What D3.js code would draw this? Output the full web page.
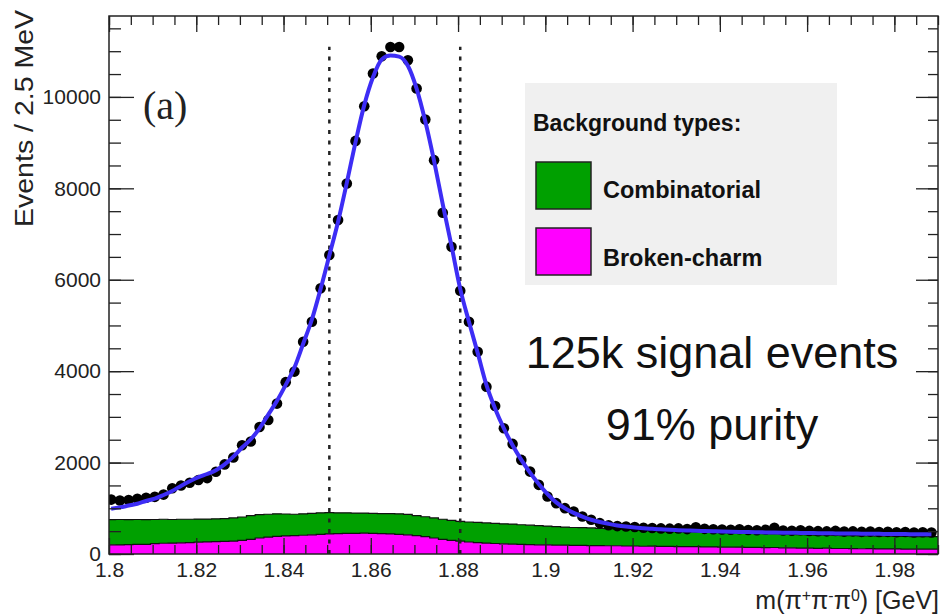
<!DOCTYPE html>
<html>
<head>
<meta charset="utf-8">
<script src="https://cdn.jsdelivr.net/npm/d3@7.9.0/dist/d3.min.js"></script>
<style>
  html, body { margin: 0; padding: 0; background: #fff; }
  svg { display: block; font-family: "Liberation Sans", Arial, Helvetica, sans-serif; }
</style>
</head>
<body>
<svg id="chart" width="942" height="615"></svg>
<script>
// histogram binning: 95 bins of 2 MeV
const binLo = 1.7995;
const binWidth = 0.002;

// data points (events per bin)
const events = [
  1190, 1170, 1180, 1210, 1230, 1250, 1300, 1440, 1500, 1560,
  1620, 1660, 1800, 1960, 2110, 2380, 2460, 2780, 2930, 3290,
  3760, 3990, 4645, 5082, 5812, 6540, 7305, 8107, 9038, 9797,
  10511, 10890, 11093, 11093, 10802, 10183, 9506, 8616, 7464, 6721,
  5760, 5082, 4426, 3661, 3239, 2752, 2409, 2059, 1803, 1513,
  1257, 1112, 1003, 929, 820, 748, 675, 630, 610, 600,
  590, 575, 570, 560, 555, 560, 545, 585, 550, 540,
  535, 530, 540, 525, 520, 530, 575, 515, 510, 520,
  505, 500, 495, 505, 490, 495, 485, 490, 480, 485,
  475, 480, 470, 475, 470
];

// total fit, sampled at the bin centres
const fitValues = [
  990, 1020, 1060, 1100, 1160, 1210, 1290, 1380, 1490, 1590,
  1680, 1750, 1830, 1960, 2130, 2330, 2510, 2750, 3050, 3350,
  3700, 4080, 4600, 5130, 5800, 6530, 7270, 8120, 9010, 9820,
  10430, 10820, 10905, 10880, 10680, 10180, 9460, 8600, 7650, 6740,
  5800, 5080, 4400, 3700, 3180, 2750, 2380, 2060, 1780, 1530,
  1310, 1130, 1000, 900, 820, 750, 700, 660, 625, 600,
  580, 565, 550, 540, 530, 522, 515, 508, 502, 497,
  492, 488, 484, 480, 476, 473, 470, 467, 464, 461,
  458, 456, 453, 451, 449, 447, 445, 443, 441, 439,
  437, 435, 433, 431, 430
];

// broken-charm background (bottom of the stack)
const brokenCharm = [
  200, 198, 205, 210, 212, 225, 235, 238, 245, 250,
  258, 265, 270, 275, 282, 300, 320, 350, 370, 385,
  395, 400, 410, 420, 430, 440, 445, 450, 452, 455,
  450, 445, 440, 430, 420, 400, 380, 350, 320, 300,
  280, 262, 250, 240, 230, 222, 215, 210, 205, 200,
  200, 195, 195, 190, 190, 185, 185, 180, 180, 175,
  175, 170, 172, 165, 165, 160, 160, 162, 155, 155,
  150, 150, 152, 145, 145, 140, 142, 135, 135, 130,
  130, 125, 127, 120, 120, 118, 115, 116, 112, 110,
  110, 108, 105, 106, 105
];

// combinatorial + broken-charm (top of the stack)
const totalBackground = [
  750, 755, 750, 755, 750, 755, 760, 755, 760, 760,
  765, 765, 770, 775, 790, 810, 840, 860, 870, 880,
  875, 870, 880, 890, 900, 905, 900, 900, 895, 895,
  890, 885, 885, 880, 865, 840, 815, 790, 760, 735,
  712, 700, 690, 680, 670, 660, 655, 640, 630, 620,
  610, 600, 590, 580, 575, 570, 560, 555, 550, 545,
  540, 530, 520, 510, 500, 495, 490, 485, 480, 475,
  470, 465, 460, 455, 450, 445, 440, 435, 430, 425,
  420, 415, 410, 405, 400, 400, 395, 395, 390, 390,
  385, 385, 380, 380, 380
];

const xTicks = [1.8, 1.82, 1.84, 1.86, 1.88, 1.9, 1.92, 1.94, 1.96, 1.98];
const yTicks = [0, 2000, 4000, 6000, 8000, 10000];
const signalWindow = [1.8505, 1.8805];
const windowTop = 11100;
const bgLabels = ['Combinatorial', 'Broken-charm'];
const bgColors = ['#00a000', '#ff00ff'];

const svg = d3.select('#chart');
const x = d3.scaleLinear().domain([1.8, 1.99]).range([109, 938]);
const y = d3.scaleLinear().domain([0, 11770]).range([554, 16]);

svg.append('rect').attr('width', 942).attr('height', 615).attr('fill', '#fff');

svg.append('clipPath').attr('id', 'plot')
  .append('rect')
  .attr('x', x.range()[0]).attr('y', y.range()[1])
  .attr('width', x.range()[1] - x.range()[0])
  .attr('height', y.range()[0] - y.range()[1]);

const plot = svg.append('g').attr('clip-path', 'url(#plot)');

// bin edges for the stacked background histograms
let bins = events.map((v, i) => ({
  x0: binLo + i * binWidth,
  xc: binLo + (i + 0.5) * binWidth,
  x1: binLo + (i + 1) * binWidth,
  n: v,
  fit: fitValues[i],
  bc: brokenCharm[i],
  tot: totalBackground[i]
}));
let steps = bins.map(b => ({ x: b.x0, bc: b.bc, tot: b.tot }));
let last = bins[bins.length - 1];
steps.push({ x: x.domain()[1], bc: last.bc, tot: last.tot });

let area = d3.area().curve(d3.curveStepAfter).x(d => x(d.x));
plot.append('path')
  .datum(steps)
  .attr('fill', bgColors[0])
  .attr('d', area.y0(d => y(d.bc)).y1(d => y(d.tot)));
plot.append('path')
  .datum(steps)
  .attr('fill', bgColors[1])
  .attr('d', area.y0(y(0)).y1(d => y(d.bc)));

let stepLine = d3.line().curve(d3.curveStepAfter).x(d => x(d.x));
['tot', 'bc'].forEach(k => {
  plot.append('path')
    .datum(steps)
    .attr('fill', 'none')
    .attr('stroke', '#111')
    .attr('stroke-width', 1.2)
    .attr('d', stepLine.y(d => y(d[k])));
});

// signal window
plot.selectAll('line.window')
  .data(signalWindow)
  .join('line')
  .attr('class', 'window')
  .attr('x1', d => x(d)).attr('x2', d => x(d))
  .attr('y1', y(0)).attr('y2', y(windowTop))
  .attr('stroke', '#222')
  .attr('stroke-width', 2.5)
  .attr('stroke-dasharray', '4,6.5');

// data points
plot.selectAll('line.err')
  .data(bins)
  .join('line')
  .attr('class', 'err')
  .attr('x1', d => x(d.x0)).attr('x2', d => x(d.x1))
  .attr('y1', d => y(d.n)).attr('y2', d => y(d.n))
  .attr('stroke', '#000').attr('stroke-width', 2.5);
plot.selectAll('circle')
  .data(bins)
  .join('circle')
  .attr('cx', d => x(d.xc))
  .attr('cy', d => y(d.n))
  .attr('r', 5.3)
  .attr('fill', '#000');

// fit
plot.append('path')
  .datum(bins)
  .attr('fill', 'none')
  .attr('stroke', '#3d2df5')
  .attr('stroke-width', 4)
  .attr('d', d3.line().curve(d3.curveMonotoneX).x(d => x(d.xc)).y(d => y(d.fit)));

// axes, ticks inward
function minorX() { return d3.range(0, 39).map(k => 1.8 + k * 0.005); }
function minorY() { return d3.range(0, 24).map(k => k * 500); }

function styleAxis(g) {
  g.select('.domain').remove();
  g.selectAll('.tick line').attr('stroke', '#222').attr('stroke-width', 1.3);
  g.selectAll('.tick text').attr('fill', '#222').attr('font-size', 21)
    .attr('font-family', '"Liberation Sans", Arial, sans-serif');
}

svg.append('g').attr('transform', `translate(0,${y(0)})`)
  .call(d3.axisBottom(x).tickValues(minorX()).tickSize(-9).tickFormat(''))
  .call(styleAxis);
svg.append('g').attr('transform', `translate(0,${y(0)})`)
  .call(d3.axisBottom(x).tickValues(xTicks).tickSize(-16).tickPadding(8)
    .tickFormat(d => String(+d.toFixed(2))))
  .call(styleAxis);
svg.append('g').attr('transform', `translate(0,${y.range()[1]})`)
  .call(d3.axisTop(x).tickValues(minorX()).tickSize(-9).tickFormat(''))
  .call(styleAxis);
svg.append('g').attr('transform', `translate(0,${y.range()[1]})`)
  .call(d3.axisTop(x).tickValues(xTicks).tickSize(-16).tickFormat(''))
  .call(styleAxis);

svg.append('g').attr('transform', `translate(${x(1.8)},0)`)
  .call(d3.axisLeft(y).tickValues(minorY()).tickSize(-12).tickFormat(''))
  .call(styleAxis);
svg.append('g').attr('transform', `translate(${x(1.8)},0)`)
  .call(d3.axisLeft(y).tickValues(yTicks).tickSize(-25).tickPadding(8).tickFormat(d3.format('d')))
  .call(styleAxis);
svg.append('g').attr('transform', `translate(${x.range()[1]},0)`)
  .call(d3.axisRight(y).tickValues(minorY()).tickSize(-10).tickFormat(''))
  .call(styleAxis);
svg.append('g').attr('transform', `translate(${x.range()[1]},0)`)
  .call(d3.axisRight(y).tickValues(yTicks).tickSize(-22).tickFormat(''))
  .call(styleAxis);

// frame
svg.append('rect')
  .attr('x', x.range()[0]).attr('y', y.range()[1])
  .attr('width', x.range()[1] - x.range()[0])
  .attr('height', y.range()[0] - y.range()[1])
  .attr('fill', 'none').attr('stroke', '#222').attr('stroke-width', 1.5);

// axis titles
svg.append('text')
  .attr('transform', 'translate(33,10) rotate(-90)')
  .attr('text-anchor', 'end')
  .attr('font-size', 25)
  .attr('fill', '#222')
  .attr('textLength', 217)
  .attr('lengthAdjust', 'spacingAndGlyphs')
  .text('Events / 2.5 MeV');

let xt = svg.append('text')
  .attr('x', 939).attr('y', 609)
  .attr('text-anchor', 'end')
  .attr('font-size', 25)
  .attr('fill', '#222');
xt.append('tspan').text('m(π');
xt.append('tspan').attr('baseline-shift', 'super').attr('font-size', 16).text('+');
xt.append('tspan').text('π');
xt.append('tspan').attr('baseline-shift', 'super').attr('font-size', 16).text('-');
xt.append('tspan').text('π');
xt.append('tspan').attr('baseline-shift', 'super').attr('font-size', 16).text('0');
xt.append('tspan').text(') [GeV]');

svg.append('text')
  .attr('x', 143).attr('y', 119)
  .attr('font-family', '"Liberation Serif", "DejaVu Serif", serif')
  .attr('font-size', 40)
  .attr('fill', '#222')
  .text('(a)');

// legend
let legend = svg.append('g');
legend.append('rect')
  .attr('x', 525).attr('y', 83).attr('width', 312).attr('height', 202)
  .attr('fill', '#f0f0f0');
legend.append('text')
  .attr('x', 533).attr('y', 131)
  .attr('font-size', 23).attr('font-weight', 'bold').attr('fill', '#111')
  .text('Background types:');
bgLabels.forEach((lab, i) => {
  legend.append('rect')
    .attr('x', 536).attr('y', 162 + i * 66).attr('width', 55).attr('height', 47)
    .attr('fill', bgColors[i]).attr('stroke', '#222').attr('stroke-width', 1.5);
  legend.append('text')
    .attr('x', 603).attr('y', 198 + i * 68)
    .attr('font-size', 23.5).attr('font-weight', 'bold').attr('fill', '#111')
    .text(lab);
});

// annotation
svg.append('text')
  .attr('x', 712).attr('y', 368)
  .attr('text-anchor', 'middle')
  .attr('font-size', 45).attr('font-weight', 300).attr('fill', '#111')
  .text('125k signal events');
svg.append('text')
  .attr('x', 712).attr('y', 440)
  .attr('text-anchor', 'middle')
  .attr('font-size', 45).attr('font-weight', 300).attr('fill', '#111')
  .text('91% purity');
</script>
</body>
</html>
